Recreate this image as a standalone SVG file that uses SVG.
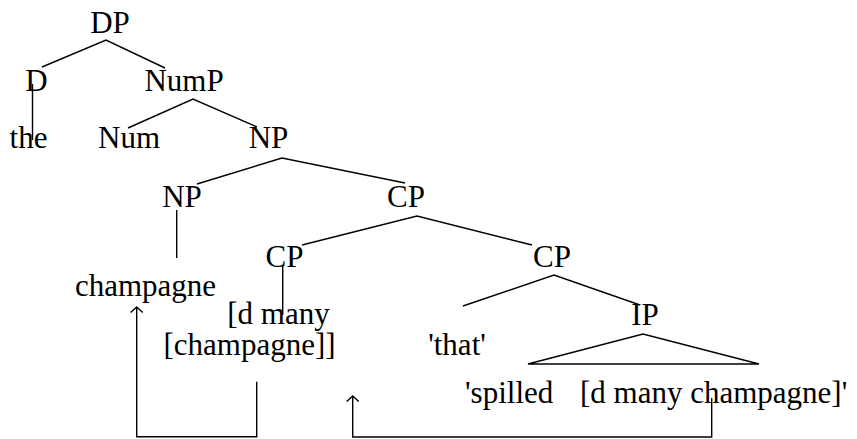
<svg xmlns="http://www.w3.org/2000/svg" width="857" height="439" viewBox="0 0 857 439">
<style>
text{font-family:"Liberation Serif","Times New Roman",serif;font-size:31px;fill:#000;text-anchor:middle}
.l{text-anchor:start}
.e{stroke:#000;stroke-width:1.4;fill:none}
</style>
<defs>
<marker id="ah" markerUnits="userSpaceOnUse" markerWidth="14" markerHeight="14" refX="0" refY="0" orient="auto" overflow="visible">
<path d="M-5.5,-6 L0,0 L-5.5,6" fill="none" stroke="#000" stroke-width="1.4"/>
</marker>
</defs>
<rect width="857" height="439" fill="#fff"/>
<g id="connectors" class="e">
<path d="M42,67 L106,40 L165,68"/>
<path d="M32.5,84 V140"/>
<path d="M128,128 L193,99 L257,127"/>
<path d="M197,184 L282,158 L405,183"/>
<path d="M176.7,210 V258"/>
<path d="M302,245 L417,216 L532,245"/>
<path d="M282.7,266 V315"/>
<path d="M463,306 L554,275 L640,305"/>
<path d="M528,364 L643,334 L759,364 Z"/>
<path d="M256.7,381.7 V436.7 H136.7 V307" marker-end="url(#ah)"/>
<path d="M711.7,398 V437 H352.7 V396" marker-end="url(#ah)"/>
</g>
<g id="DP"><text x="110" y="32.5">DP</text></g>
<g id="D"><text x="36.5" y="90.5">D</text></g>
<g id="NumP"><text x="184" y="90.5">NumP</text></g>
<g id="the"><text x="28.5" y="148">the</text></g>
<g id="Num"><text x="129" y="148">Num</text></g>
<g id="NP1"><text x="268.5" y="148">NP</text></g>
<g id="NP2"><text x="182" y="207">NP</text></g>
<g id="CP1"><text x="406" y="207">CP</text></g>
<g id="CP2"><text x="284.5" y="266.5">CP</text></g>
<g id="CP3"><text x="552" y="266.5">CP</text></g>
<g id="champagne"><text x="145.5" y="296">champagne</text></g>
<g id="dmany"><text x="278.5" y="324">[d many</text><text x="249.5" y="355">[champagne]]</text></g>
<g id="IP"><text x="645" y="325">IP</text></g>
<g id="that"><text x="457" y="355">'that'</text></g>
<g id="spilled"><text class="l" x="465" y="403">'spilled</text><text class="l" x="580" y="403">[d many champagne]'</text></g>
</svg>
